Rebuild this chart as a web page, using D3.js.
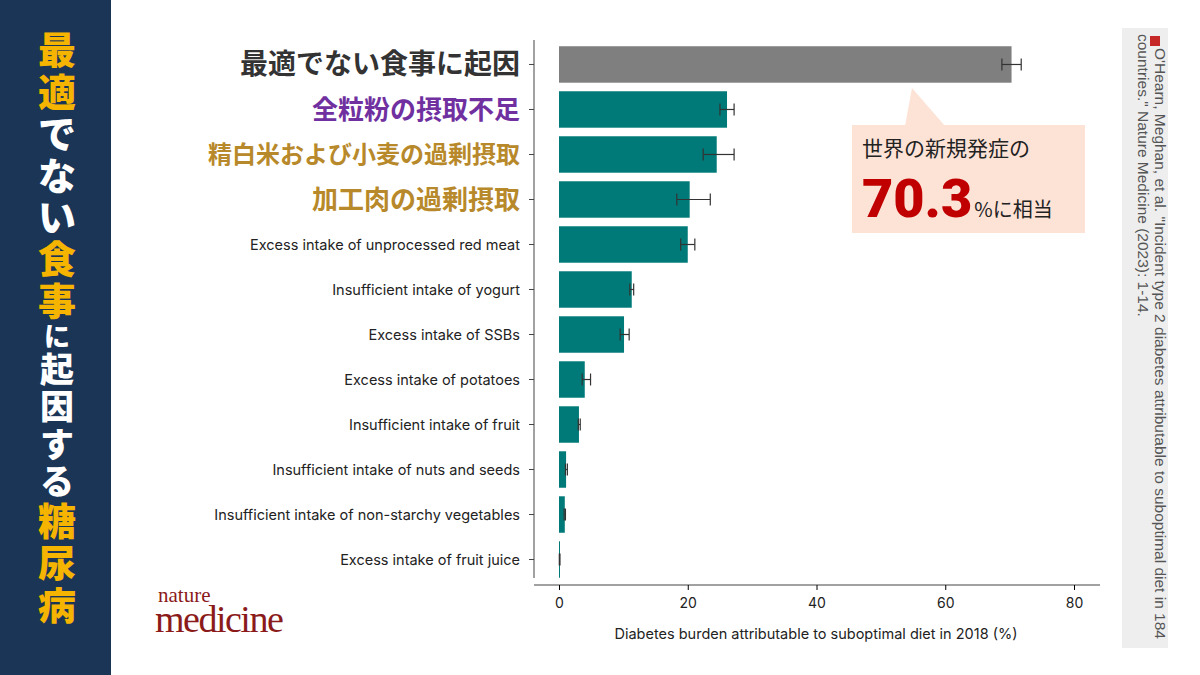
<!DOCTYPE html>
<html><head><meta charset="utf-8">
<script src="https://cdnjs.cloudflare.com/ajax/libs/d3/7.8.5/d3.min.js"></script>
<style>body{margin:0;background:#fff}svg{display:block}</style>
</head><body>
<svg id="c" width="1200" height="675"></svg>
<script>
var categories = ["最適でない食事に起因","全粒粉の摂取不足","精白米および小麦の過剰摂取","加工肉の過剰摂取",
  "Excess intake of unprocessed red meat","Insufficient intake of yogurt","Excess intake of SSBs",
  "Excess intake of potatoes","Insufficient intake of fruit","Insufficient intake of nuts and seeds",
  "Insufficient intake of non-starchy vegetables","Excess intake of fruit juice"];
var values = [70.3,26.1,24.5,20.3,20.0,11.3,10.1,4.0,3.1,1.1,0.9,0.1];
var lower = [68.8,25.0,22.4,18.3,18.9,11.0,9.5,3.6,3.0,1.0,0.8,0.05];
var upper = [71.8,27.2,27.2,23.5,21.1,11.6,10.9,4.9,3.3,1.3,1.0,0.15];
var xTicks = [0,20,40,60,80];
var labelColors = ["#333","#7030a0","#b8892a","#b8892a"];

var svg = d3.select("#c");
var font = "'Noto Sans CJK JP','Noto Sans',sans-serif";

// left banner
svg.append("rect").attr("width",111).attr("height",675).attr("fill","#1b3556");
var banner = [["最適","#f5b400",38],["でない","#fff",38],["食事","#f5b400",38],["に","#fff",26],["起因する","#fff",34],["糖尿病","#f5b400",38]];
var yy = 30;
banner.forEach(function(b){
  b[0].split("").forEach(function(ch){
    svg.append("text").attr("x",57).attr("y",yy+b[2]*0.9).attr("text-anchor","middle")
      .attr("font-family",font).attr("font-weight",900).attr("font-size",b[2]).attr("fill",b[1]).text(ch);
    yy += b[2]*1.1;
  });
});

var x = d3.scaleLinear().domain([0,80]).range([559,1074]);
var y = d3.scaleBand().domain(categories).range([44,580]).paddingInner(0.19).paddingOuter(0.05);

var g = svg.append("g");
g.append("line").attr("x1",534).attr("x2",534).attr("y1",40).attr("y2",578).attr("stroke","#444");
g.selectAll("line.tk").data(categories).enter().append("line")
  .attr("x1",529).attr("x2",534).attr("y1",function(d){return y(d)+y.bandwidth()/2;})
  .attr("y2",function(d){return y(d)+y.bandwidth()/2;}).attr("stroke","#444");

var xa = svg.append("g").attr("transform","translate(0,585)")
  .call(d3.axisBottom(x).tickValues(xTicks).tickSize(5).tickSizeOuter(0));
xa.select(".domain").attr("d","M534,0H1100").attr("stroke","#444");
xa.selectAll("text").attr("font-family","Inter,'Noto Sans',sans-serif").attr("font-size",14).attr("fill","#222").attr("dy","1.1em");
svg.append("text").attr("x",816).attr("y",639).attr("text-anchor","middle").attr("font-family","Inter,'Noto Sans',sans-serif")
  .attr("font-size",14.5).attr("fill","#222").text("Diabetes burden attributable to suboptimal diet in 2018 (%)");

g.selectAll("rect.bar").data(values).enter().append("rect")
  .attr("x",x(0)).attr("y",function(d,i){return y(categories[i]);}).attr("height",y.bandwidth())
  .attr("width",function(d){return Math.max(1,x(d)-x(0));})
  .attr("fill",function(d,i){return i===0?"#7f7f7f":"#007a78";});

values.forEach(function(v,i){
  var cy = y(categories[i])+y.bandwidth()/2;
  g.append("line").attr("x1",x(lower[i])).attr("x2",x(upper[i])).attr("y1",cy).attr("y2",cy).attr("stroke","#333").attr("stroke-width",1.2);
  [lower[i],upper[i]].forEach(function(e){
    g.append("line").attr("x1",x(e)).attr("x2",x(e)).attr("y1",cy-6).attr("y2",cy+6).attr("stroke","#333").attr("stroke-width",1.2);
  });
});

g.selectAll("text.lab").data(categories).enter().append("text")
  .attr("x",520).attr("y",function(d){return y(d)+y.bandwidth()/2;}).attr("dy","0.35em").attr("text-anchor","end")
  .attr("font-family",function(d,i){return i<4?font:"Inter,'Noto Sans',sans-serif";})
  .attr("font-size",function(d,i){return i<4?(i===0?28:i===2?24:26):14.5;})
  .attr("font-weight",function(d,i){return i<4?700:400;})
  .attr("fill",function(d,i){return i<4?labelColors[i]:"#222";})
  .text(function(d){return d;});

// callout
svg.append("path").attr("d","M905,126 L912,88 L945,126 Z").attr("fill","#fde3d6");
svg.append("rect").attr("x",852).attr("y",125).attr("width",233).attr("height",108).attr("fill","#fde3d6");
svg.append("text").attr("x",862).attr("y",156).attr("font-family",font).attr("font-size",21).attr("fill","#222").text("世界の新規発症の");
var t = svg.append("text").attr("x",862).attr("y",217).attr("font-family",font).attr("fill","#222");
t.append("tspan").attr("font-size",54).attr("font-weight",900).attr("fill","#c00000").attr("font-family","Roboto,'Noto Sans',sans-serif").text(values[0].toFixed(1));
t.append("tspan").attr("font-size",20).attr("dx",2).text("%に相当");

// logo
svg.append("text").attr("x",158).attr("y",602).attr("font-family","'Liberation Serif',serif").attr("font-size",21).attr("fill","#8b1a1a").text("nature");
svg.append("text").attr("x",155).attr("y",632).attr("font-family","'Liberation Serif',serif").attr("font-size",38).attr("fill","#8b1a1a").attr("letter-spacing",-1.5).text("medicine");

// citation panel
svg.append("rect").attr("x",1122).attr("y",28).attr("width",46).attr("height",620).attr("fill","#eeeeee");
svg.append("rect").attr("x",1150).attr("y",36).attr("width",10).attr("height",10).attr("fill","#c62828");
var ct = svg.append("text").attr("transform","translate(1155,48) rotate(90)").attr("font-family","'Liberation Sans',sans-serif").attr("font-size",15.5).attr("fill","#555");
ct.append("tspan").attr("x",0).attr("y",0).text("O'Hearn, Meghan, et al. \"Incident type 2 diabetes attributable to suboptimal diet in 184");
ct.append("tspan").attr("x",-14).attr("y",17).text("countries.\" Nature Medicine (2023): 1-14.");
</script>
</body></html>
